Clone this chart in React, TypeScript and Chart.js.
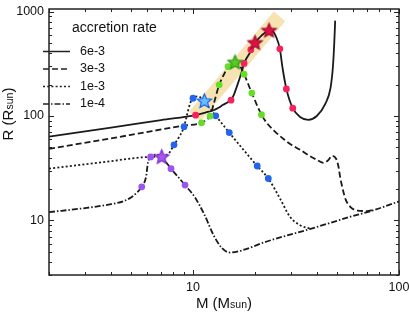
import { useEffect, useRef } from 'react';
import { Chart, registerables } from 'chart.js';

Chart.register(...registerables);

const FONT = '"Liberation Sans", Arial, Helvetica, sans-serif';

// ---- data ----
const rateLabels = ['6e-3', '3e-3', '1e-3', '1e-4'];
const rateDashes: number[][] = [[], [6, 3], [2, 2.2], [6, 2, 1.5, 2]];

const mass6e3 = [2, 4, 7, 10.3, 11.5, 12.5, 13.3, 14.0, 14.7, 15.3, 15.8, 16.3, 17.2, 17.7, 19.3, 20.0, 21.5, 23.4, 24.4, 25.4, 26.4, 27.2, 28.4, 30.5, 33.1, 36.3, 39.9, 43.8, 46.5, 47.8, 48.5, 49.0];
const radius6e3 = [63.5, 77.5, 91.5, 102, 108, 113, 120, 128, 135, 142, 160, 190, 261, 319, 432, 500, 590, 655, 645, 565, 440, 290, 182, 119, 98, 92, 100, 130, 185, 300, 500, 820];

const mass3e3 = [2, 5, 9, 11.0, 11.6, 12.1, 12.6, 13.4, 14.2, 14.8, 16.0, 16.9, 17.7, 19.3, 21.5, 22.8, 25, 27.6, 30, 33.1, 37.2, 40, 43, 45.5, 47.2, 49.5, 50.8, 51.8, 53, 55, 58, 63, 70, 75];
const radius3e3 = [48.5, 66, 81, 86, 92, 100, 130, 199, 255, 297, 324, 302, 252, 166, 103, 86, 71, 60, 53, 47.5, 41, 38, 35.6, 38, 41.5, 39, 33, 26, 21, 16, 13.5, 12.4, 12.3, 12.6];

const mass1e3 = [2, 4, 6, 7.5, 8.09, 8.6, 9.05, 9.3, 9.67, 10.0, 10.6, 11.35, 12.0, 12.9, 15.0, 17.5, 20.5, 23.2, 26.5, 29.6, 33.1, 37.2];
const radius1e3 = [31.3, 37, 40.5, 42.6, 53, 64, 79, 98, 131, 148, 154, 138, 120, 100.5, 69.4, 48, 33.2, 25.2, 16.1, 10.8, 9.0, 8.3];

const mass1e4 = [2, 3.05, 4.0, 4.6, 5.0, 5.33, 5.64, 5.93, 6.04, 6.23, 6.67, 7.05, 7.82, 9.15, 10.2, 11.4, 12.55, 13.8, 15.1, 16.9, 22.8, 37.2, 57.7, 75, 100];
const radius1e4 = [12.0, 13.2, 14.3, 15.3, 16.6, 18.4, 21, 26.7, 35.6, 40.6, 42.7, 40.3, 31.3, 21.8, 16.7, 11.2, 7.3, 5.45, 4.92, 5.1, 6.28, 8.3, 10.8, 12.5, 15.2];

const bandMass = [10.2, 26.3];
const bandRadius = [99, 900];

const redDotMass = [10.3, 15.3, 17.7, 19.1, 26.4, 28.4, 30.5];
const redDotRadius = [102, 142, 319, 432, 440, 182, 119];
const redStarMass = [20.0, 23.4];
const redStarRadius = [500, 655];

const greenDotMass = [11.0, 12.1, 13.4, 14.8, 17.7, 19.3, 21.5];
const greenDotRadius = [86, 100, 199, 297, 252, 166, 103];
const greenStarMass = [16.0];
const greenStarRadius = [324];

const blueDotMass = [8.09, 9.05, 10.0, 12.9, 15.0, 20.5, 23.2];
const blueDotRadius = [53, 79, 148, 100.5, 69.4, 33.2, 25.2];
const blueStarMass = [11.35];
const blueStarRadius = [138];

const purpleDotMass = [5.64, 6.23, 7.82, 9.15];
const purpleDotRadius = [21, 40.6, 31.3, 21.8];
const purpleStarMass = [7.05];
const purpleStarRadius = [40.3];

const xMin = 2;
const xMax = 100;
const yMin = 3;
const yMax = 1060;
const xTickValues = [10, 100];
const yTickValues = [10, 100, 1000];

// ---- helpers ----
const pts = (m: number[], r: number[]) => m.map((x, i) => ({ x, y: r[i] }));

function starCanvas(r: number, fill: string, stroke: string) {
  const size = Math.ceil(r * 2 + 4);
  const c = document.createElement('canvas');
  c.width = size;
  c.height = size;
  const ctx = c.getContext('2d')!;
  ctx.beginPath();
  for (let i = 0; i < 10; i++) {
    const a = -Math.PI / 2 + (i * Math.PI) / 5;
    const rr = i % 2 === 0 ? r : r * 0.45;
    ctx.lineTo(size / 2 + rr * Math.cos(a), size / 2 + rr * Math.sin(a));
  }
  ctx.closePath();
  ctx.fillStyle = fill;
  ctx.fill();
  ctx.lineWidth = 1.2;
  ctx.strokeStyle = stroke;
  ctx.stroke();
  return c;
}

function drawMixed(ctx: CanvasRenderingContext2D, parts: [string, number][], cx: number, baseline: number) {
  let total = 0;
  for (const [t, s] of parts) {
    ctx.font = `${s}px ${FONT}`;
    total += ctx.measureText(t).width;
  }
  let x = cx - total / 2;
  ctx.textAlign = 'left';
  ctx.textBaseline = 'alphabetic';
  for (const [t, s] of parts) {
    ctx.font = `${s}px ${FONT}`;
    ctx.fillText(t, x, baseline);
    x += ctx.measureText(t).width;
  }
}

function minorValues(min: number, max: number) {
  const out: number[] = [];
  for (let e = Math.floor(Math.log10(min)); e <= Math.ceil(Math.log10(max)); e++) {
    for (let k = 1; k <= 9; k++) {
      const v = k * Math.pow(10, e);
      if (v >= min && v <= max) out.push(v);
    }
  }
  return out;
}

const framePlugin = {
  id: 'frame',
  afterDraw(chart: any) {
    const ctx: CanvasRenderingContext2D = chart.ctx;
    const { left, right, top, bottom } = chart.chartArea;
    const xs = chart.scales.x;
    const ys = chart.scales.y;
    ctx.save();
    ctx.strokeStyle = '#222';
    ctx.lineWidth = 1;
    for (const v of minorValues(xMin, xMax)) {
      const px = Math.round(xs.getPixelForValue(v)) + 0.5;
      const major = Math.abs(Math.log10(v) - Math.round(Math.log10(v))) < 1e-9;
      const len = major ? 5 : 3;
      ctx.beginPath();
      ctx.moveTo(px, bottom);
      ctx.lineTo(px, bottom - len);
      ctx.moveTo(px, top);
      ctx.lineTo(px, top + len);
      ctx.stroke();
    }
    for (const v of minorValues(yMin, yMax)) {
      const py = Math.round(ys.getPixelForValue(v)) + 0.5;
      const major = Math.abs(Math.log10(v) - Math.round(Math.log10(v))) < 1e-9;
      const len = major ? 5 : 3;
      ctx.beginPath();
      ctx.moveTo(left, py);
      ctx.lineTo(left + len, py);
      ctx.moveTo(right, py);
      ctx.lineTo(right - len, py);
      ctx.stroke();
    }
    ctx.lineWidth = 1.5;
    ctx.strokeStyle = '#222';
    ctx.strokeRect(left, top, right - left, bottom - top);

    // axis titles
    ctx.fillStyle = '#111';
    drawMixed(ctx, [['M (M', 15], ['sun', 10.5], [')', 15]], (left + right) / 2, 307.5);
    ctx.save();
    ctx.translate(13, 114);
    ctx.rotate(-Math.PI / 2);
    drawMixed(ctx, [['R (R', 15], ['sun', 10.5], [')', 15]], 0, 0);
    ctx.restore();

    // legend
    ctx.fillStyle = '#111';
    ctx.textAlign = 'left';
    ctx.textBaseline = 'middle';
    ctx.font = `14px ${FONT}`;
    ctx.fillText('accretion rate', left + 23, top + 19);
    ctx.font = `12.5px ${FONT}`;
    rateLabels.forEach((lab, i) => {
      const y = top + 42.5 + i * 17.5;
      ctx.save();
      ctx.strokeStyle = '#222';
      ctx.lineWidth = 1.5;
      ctx.setLineDash(rateDashes[i]);
      ctx.beginPath();
      ctx.moveTo(43, y);
      ctx.lineTo(70, y);
      ctx.stroke();
      ctx.restore();
      ctx.fillText(lab, 80, y);
    });
    ctx.restore();
  },
};

export default function App() {
  const ref = useRef<HTMLCanvasElement | null>(null);

  useEffect(() => {
    if (!ref.current) return;
    const lineSeries = [
      [mass6e3, radius6e3],
      [mass3e3, radius3e3],
      [mass1e3, radius1e3],
      [mass1e4, radius1e4],
    ];
    const lineSets = lineSeries.map(([m, r], i) => ({
      type: 'line' as const,
      label: rateLabels[i],
      data: pts(m, r),
      borderColor: '#1a1a1a',
      borderWidth: 1.8,
      borderDash: rateDashes[i],
      pointRadius: 0,
      cubicInterpolationMode: 'monotone' as const,
      fill: false,
      order: 5,
    }));
    const dotSet = (m: number[], r: number[], color: string) => ({
      type: 'line' as const,
      data: pts(m, r),
      showLine: false,
      pointRadius: 3.4,
      pointBackgroundColor: color,
      pointBorderColor: color,
      pointBorderWidth: 0,
      order: 2,
    });
    const starSet = (m: number[], r: number[], fill: string, stroke: string) => ({
      type: 'line' as const,
      data: pts(m, r),
      showLine: false,
      pointStyle: starCanvas(7.5, fill, stroke),
      pointRadius: 8,
      order: 1,
    });

    const chart = new Chart(ref.current, {
      type: 'line',
      data: {
        datasets: [
          ...lineSets,
          {
            type: 'line',
            data: pts(bandMass, bandRadius),
            borderColor: 'rgba(240, 200, 100, 0.5)',
            borderWidth: 15,
            borderCapStyle: 'butt',
            pointRadius: 0,
            fill: false,
            order: 10,
          },
          dotSet(redDotMass, redDotRadius, '#f5225c'),
          dotSet(greenDotMass, greenDotRadius, '#66dd2a'),
          dotSet(blueDotMass, blueDotRadius, '#2264ee'),
          dotSet(purpleDotMass, purpleDotRadius, '#9a55ee'),
          starSet(redStarMass, redStarRadius, '#dc1244', '#a00a30'),
          starSet(greenStarMass, greenStarRadius, '#55cc22', '#2e9410'),
          starSet(blueStarMass, blueStarRadius, '#66c0ff', '#1a5fee'),
          starSet(purpleStarMass, purpleStarRadius, '#a955ee', '#7a2ecc'),
        ] as any,
      },
      options: {
        animation: false,
        responsive: true,
        maintainAspectRatio: false,
        devicePixelRatio: 1,
        layout: { padding: { top: 4, right: 10, left: 0, bottom: 0 } },
        plugins: { legend: { display: false }, tooltip: { enabled: false } },
        scales: {
          x: {
            type: 'logarithmic',
            min: xMin,
            max: xMax,
            grid: { display: false, drawTicks: false },
            border: { display: false },
            afterBuildTicks: (s: any) => {
              s.ticks = xTickValues.map((v) => ({ value: v }));
            },
            afterFit: (s: any) => {
              s.height = 42;
              s.paddingLeft = 0;
              s.paddingRight = 0;
            },
            ticks: {
              autoSkip: false,
              maxRotation: 0,
              padding: 5,
              color: '#111',
              font: { family: FONT, size: 12.5 },
              callback: (v: any) => String(v),
            },
          },
          y: {
            type: 'logarithmic',
            min: yMin,
            max: yMax,
            grid: { display: false, drawTicks: false },
            border: { display: false },
            afterBuildTicks: (s: any) => {
              s.ticks = yTickValues.map((v) => ({ value: v }));
            },
            afterFit: (s: any) => {
              s.width = 49;
              s.paddingTop = 0;
              s.paddingBottom = 0;
            },
            ticks: {
              autoSkip: false,
              padding: 5,
              color: '#111',
              font: { family: FONT, size: 12.5 },
              callback: (v: any) => String(v),
            },
          },
        },
      },
      plugins: [framePlugin],
    });
    return () => chart.destroy();
  }, []);

  return (
    <div style={{ position: 'absolute', left: 0, top: 0, width: 409, height: 317 }}>
      <canvas ref={ref} />
    </div>
  );
}
